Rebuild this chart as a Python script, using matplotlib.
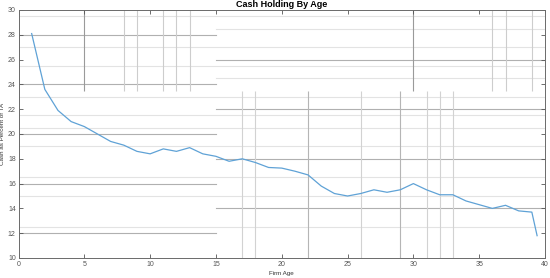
import numpy as np
import matplotlib
matplotlib.use('Agg')
import matplotlib.pyplot as plt

plt.rcParams['font.family'] = ['Liberation Sans', 'DejaVu Sans']

# # data
firm_age = [1, 2, 3, 4, 5, 6, 7, 8, 9, 10, 11, 12, 13, 14, 15, 16, 17, 18, 19, 20,
            21, 22, 23, 24, 25, 26, 27, 28, 29, 30, 31, 32, 33, 34, 35, 36, 37, 38, 39, 39.4]
cash_pct = [28.1, 23.6, 21.9, 21.0, 20.6, 20.0, 19.4, 19.1, 18.6, 18.4,
            18.8, 18.6, 18.9, 18.4, 18.2, 17.8, 18.0, 17.7, 17.3, 17.25,
            17.0, 16.7, 15.8, 15.2, 15.0, 15.2, 15.5, 15.3, 15.5, 16.0,
            15.5, 15.1, 15.1, 14.6, 14.3, 14.0, 14.25, 13.8, 13.7, 11.8]

x_ticks = [0, 5, 10, 15, 20, 25, 30, 35, 40]
y_ticks = [10, 12, 14, 16, 18, 20, 22, 24, 26, 28, 30]

# # the broken-up grid of the original figure
grid_full = [29.5, 27, 25.5, 23, 21.5, 20.5, 19, 16.5, 15, 12.5]
grid_left = [28, 24, 20, 16, 12]          # runs 0..15
grid_right = [26, 22, 18, 14]             # runs 15..40
grid_right_light = [28.5, 24.5]
vlines_top_dark = [5, 30]
vlines_top_light = [8, 9, 11, 12, 13, 36, 37, 39]
vlines_low_dark = [22, 29]
vlines_low_light = [17, 18, 26, 31, 32, 33]

fig = plt.figure(figsize=(5.5, 2.78), dpi=100)
ax = fig.add_axes([18.5 / 550, 20 / 278, 526.5 / 550, 248 / 278])

gc = '#e3e3e3'
dc = '#b0b0b0'
for y in grid_full:
    ax.axhline(y, color=gc, lw=0.8, zorder=0)
for y in grid_left:
    ax.plot([0, 15], [y, y], color=dc, lw=0.8, zorder=0)
for y in grid_right:
    ax.plot([15, 40], [y, y], color=dc, lw=0.8, zorder=0)
for y in grid_right_light:
    ax.plot([15, 40], [y, y], color=gc, lw=0.8, zorder=0)
ax.vlines(vlines_top_dark, 23.5, 30, color='#9a9a9a', lw=0.8, zorder=0)
ax.vlines(vlines_top_light, 23.5, 30, color='#cdcdcd', lw=0.8, zorder=0)
ax.vlines(vlines_low_dark, 10, 23.5, color='#b5b5b5', lw=0.8, zorder=0)
ax.vlines(vlines_low_light, 10, 23.5, color='#d2d2d2', lw=0.8, zorder=0)

ax.plot(firm_age, cash_pct, color='#5fa2d6', lw=0.9, zorder=3)

ax.set_xlim(0, 40)
ax.set_ylim(10, 30)
ax.set_xticks(x_ticks)
ax.set_yticks(y_ticks)
ax.tick_params(direction='in', top=True, right=True, length=3, width=0.6,
               labelsize=5, colors='#555555', pad=2)
for s in ax.spines.values():
    s.set_color('#6a6a6a')
    s.set_linewidth(0.7)

ax.set_title('Cash Holding By Age', fontsize=6.5, fontweight='bold', pad=2)
ax.set_xlabel('Firm Age', fontsize=4.5, color='#333333', labelpad=2)
ax.set_ylabel('Cash as Percent of TA', fontsize=4.5, color='#333333', labelpad=2)

fig.savefig('out.png', dpi=100)
plt.close(fig)
